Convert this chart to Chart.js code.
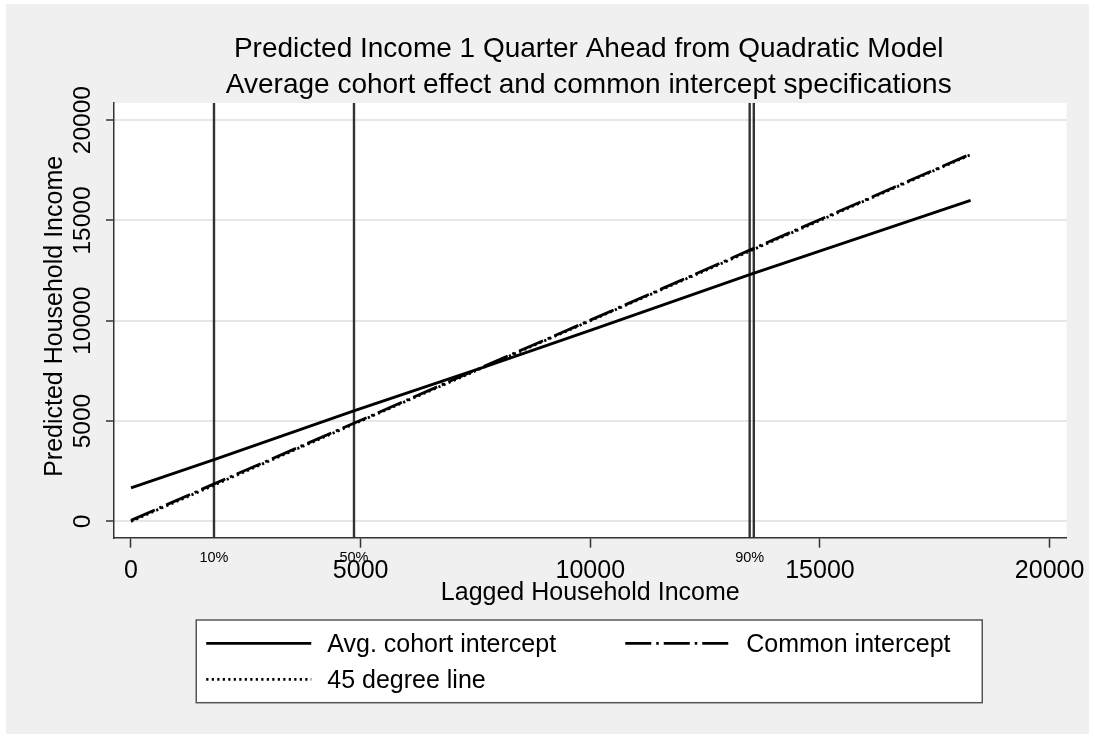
<!DOCTYPE html>
<html>
<head>
<meta charset="utf-8">
<script src="https://cdn.jsdelivr.net/npm/chart.js@4.4.1/dist/chart.umd.min.js"></script>
<style>
  body { margin: 0; background: #fff; }
  canvas { display: block; }
</style>
</head>
<body>
<canvas id="incomeChart" width="1095" height="738"></canvas>
<script>
    // values
    const lagIncome   = [0, 1810, 4850, 7700, 10000, 13470, 18280];
    const avgCohort   = [1670, 3080, 5510, 7700, 9520, 12300, 16000];
    const commonInt   = [50, 1870, 4890, 7740, 10030, 13520, 18310];
    const fortyFive   = [0, 1810, 4850, 7700, 10000, 13470, 18280];

    const pctValues = [1807, 4855, 13470, 13560];
    const pctLabels = ['10%', '50%', '90%', ''];

    const xTicks = [0, 5000, 10000, 15000, 20000];
    const yTicks = [0, 5000, 10000, 15000, 20000];

    const titleLines = ['Predicted Income 1 Quarter Ahead from Quadratic Model',
                        'Average cohort effect and common intercept specifications'];
    const xTitle = 'Lagged Household Income';
    const yTitle = 'Predicted Household Income';

    const FONT = 'Arial, "Liberation Sans", Helvetica, sans-serif';

    function pts(xs, ys) {
        return xs.map((x, i) => ({ x: x, y: ys[i] }));
    }

    const stataPlugin = {
        id: 'stata',
        beforeDraw(chart) {
            const ctx = chart.ctx;
            const a = chart.chartArea;
            ctx.save();
            ctx.fillStyle = '#f0f0f0';
            ctx.fillRect(6, 4, 1083, 730);
            ctx.fillStyle = '#ffffff';
            ctx.fillRect(a.left, a.top, a.right - a.left, a.bottom - a.top);
            ctx.restore();
        },
        beforeDatasetsDraw(chart) {
            const ctx = chart.ctx;
            const a = chart.chartArea;
            const xs = chart.scales.x;
            ctx.save();
            ctx.strokeStyle = '#333';
            ctx.lineWidth = 2.4;
            pctValues.forEach(v => {
                const px = xs.getPixelForValue(v);
                ctx.beginPath();
                ctx.moveTo(px, a.top);
                ctx.lineTo(px, a.bottom);
                ctx.stroke();
            });
            ctx.restore();
        },
        afterDraw(chart) {
            const ctx = chart.ctx;
            const a = chart.chartArea;
            const xs = chart.scales.x;
            const ys = chart.scales.y;
            const cx = (a.left + a.right) / 2;
            ctx.save();
            ctx.fillStyle = '#000';

            // titles
            ctx.font = '28px ' + FONT;
            ctx.textAlign = 'center';
            ctx.textBaseline = 'alphabetic';
            ctx.fillText(titleLines[0], cx - 1.5, 56.7);
            ctx.fillText(titleLines[1], cx - 1.5, 93.3);

            // percentile labels
            ctx.font = '14.5px ' + FONT;
            pctValues.forEach((v, i) => {
                if (pctLabels[i]) ctx.fillText(pctLabels[i], xs.getPixelForValue(v), 561.5);
            });

            // x title
            ctx.font = '25px ' + FONT;
            ctx.fillText(xTitle, cx, 600);

            // y tick labels (vertical) and y title
            yTicks.forEach(v => {
                ctx.save();
                ctx.translate(90, ys.getPixelForValue(v));
                ctx.rotate(-Math.PI / 2);
                ctx.font = '24.5px ' + FONT;
                ctx.fillText(String(v), 0, 0);
                ctx.restore();
            });
            ctx.save();
            ctx.translate(62, (a.top + a.bottom) / 2 - 4);
            ctx.rotate(-Math.PI / 2);
            ctx.font = '25px ' + FONT;
            ctx.fillText(yTitle, 0, 0);
            ctx.restore();

            // legend box
            const bx = cx - 394, by = 620, bw = 786, bh = 82.7;
            ctx.fillStyle = '#fff';
            ctx.fillRect(bx, by, bw, bh);
            ctx.strokeStyle = '#555';
            ctx.lineWidth = 1.5;
            ctx.strokeRect(bx, by, bw, bh);

            const slots = [[bx + 10, 643.3], [bx + 429, 643.3], [bx + 10, 679.3]];
            ctx.font = '25px ' + FONT;
            ctx.textAlign = 'left';
            chart.data.datasets.forEach((ds, i) => {
                const [sx, sy] = slots[i];
                ctx.save();
                ctx.strokeStyle = ds.borderColor;
                ctx.lineWidth = ds.borderWidth;
                ctx.setLineDash(ds.borderDash || []);
                ctx.beginPath();
                ctx.moveTo(sx, sy);
                ctx.lineTo(sx + 105, sy);
                ctx.stroke();
                ctx.restore();
                ctx.fillStyle = '#000';
                ctx.fillText(ds.label, sx + 121, sy + 8.4);
            });
            ctx.restore();
        }
    };

    new Chart(document.getElementById('incomeChart'), {
        type: 'scatter',
        data: {
            datasets: [{
                label: 'Avg. cohort intercept',
                data: pts(lagIncome, avgCohort),
                showLine: true,
                borderColor: '#000',
                borderWidth: 2.8,
                pointRadius: 0
            }, {
                label: 'Common intercept',
                data: pts(lagIncome, commonInt),
                showLine: true,
                borderColor: '#000',
                borderWidth: 2.8,
                borderDash: [26, 5, 2.5, 5],
                pointRadius: 0
            }, {
                label: '45 degree line',
                data: pts(lagIncome, fortyFive),
                showLine: true,
                borderColor: '#000',
                borderWidth: 2.8,
                borderDash: [2.2, 3.3],
                pointRadius: 0
            }]
        },
        options: {
            responsive: false,
            animation: false,
            devicePixelRatio: 1,
            layout: { padding: { top: 103, right: 28.5, left: 0, bottom: 0 } },
            plugins: {
                legend: { display: false },
                title: { display: false },
                tooltip: { enabled: false }
            },
            scales: {
                x: {
                    type: 'linear',
                    min: -370,
                    max: 20368,
                    afterBuildTicks: s => { s.ticks = xTicks.map(v => ({ value: v })); },
                    afterFit: s => { s.height = 200.3; },
                    ticks: {
                        callback: v => String(v),
                        font: { size: 25, family: FONT },
                        color: '#000',
                        padding: 8,
                        maxRotation: 0,
                        autoSkip: false
                    },
                    grid: {
                        drawOnChartArea: false,
                        tickLength: 10,
                        tickColor: '#333',
                        tickWidth: 1.5
                    },
                    border: { color: '#333', width: 1.5 }
                },
                y: {
                    type: 'linear',
                    min: -814,
                    max: 20854,
                    afterBuildTicks: s => { s.ticks = yTicks.map(v => ({ value: v })); },
                    afterFit: s => { s.width = 114; },
                    ticks: { display: false },
                    grid: {
                        color: '#e6e6e6',
                        lineWidth: 2,
                        tickLength: 8,
                        tickColor: '#333',
                        tickWidth: 1.5
                    },
                    border: { color: '#333', width: 1.5 }
                }
            }
        },
        plugins: [stataPlugin]
    });
</script>
</body>
</html>
